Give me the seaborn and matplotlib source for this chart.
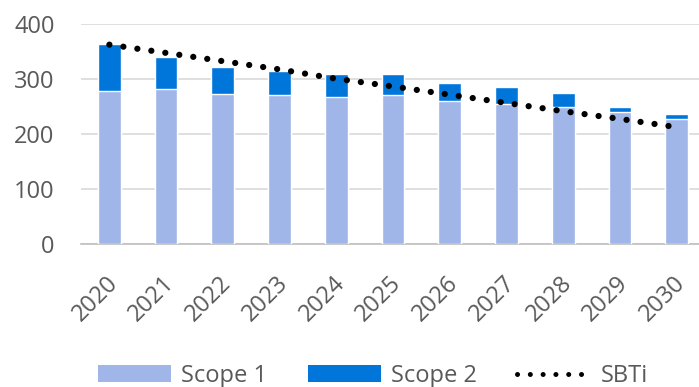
import matplotlib
matplotlib.use("Agg")
import matplotlib.pyplot as plt
import matplotlib.transforms as mtransforms
from matplotlib.patches import Patch
from matplotlib.lines import Line2D
import numpy as np
import seaborn as sns

years = ["2020", "2021", "2022", "2023", "2024", "2025",
         "2026", "2027", "2028", "2029", "2030"]
scope1 = [279, 282, 273, 271, 268, 271, 260, 255, 250, 240, 227]
scope2 = [85, 58, 49, 44, 41, 39, 34, 31, 26, 10, 10]
sbti = [363, 348, 333, 318, 301, 287, 272, 257, 242, 228, 213]
y_ticks = [0, 100, 200, 300, 400]

c_scope1 = "#A0B6E8"
c_scope2 = "#0075DA"
c_text = "#595959"
c_grid = "#D9D9D9"
fs = 17

sns.set_theme(style="white")
plt.rcParams["font.family"] = ["Open Sans", "DejaVu Sans"]

W, H = 699, 387
fig = plt.figure(figsize=(W / 100, H / 100), dpi=100)
ax = fig.add_axes([81 / W, 1 - 244.3 / H, (705 - 81) / W, 220 / H])

totals = np.array(scope1) + np.array(scope2)
pos = np.arange(len(years))

# Scope 2 stacked on top of Scope 1: full-height bar first, then Scope 1 over it
sns.barplot(x=years, y=totals, color=c_scope2, width=0.4, saturation=1,
            ax=ax, zorder=2)
sns.barplot(x=years, y=scope1, color=c_scope1, width=0.4, saturation=1,
            ax=ax, zorder=3)

sns.lineplot(x=pos, y=sbti, color="black", lw=4.5, ax=ax, zorder=4,
             linestyle=(0, (0.01, 2.25)))
for ln in ax.get_lines():
    ln.set_dash_capstyle("round")

ax.set_xlim(-0.5, len(years) - 0.5)
ax.set_ylim(0, 400)
ax.set_yticks(y_ticks)
ax.set_yticklabels([str(v) for v in y_ticks])
ax.yaxis.grid(True, color=c_grid, lw=1.2, zorder=0)
ax.set_axisbelow(True)
ax.set_xlabel("")
ax.set_ylabel("")

for side in ["left", "right", "top"]:
    ax.spines[side].set_visible(False)
ax.spines["bottom"].set_color("#BFBFBF")
ax.spines["bottom"].set_linewidth(1.2)

ax.tick_params(axis="y", length=0, pad=19, labelsize=fs, labelcolor=c_text)
ax.set_xticks(pos)
ax.set_xticks(np.arange(len(years) + 1) - 0.5, minor=True)
ax.tick_params(axis="x", which="major", length=0, pad=6,
               labelsize=fs, labelcolor=c_text)
ax.tick_params(axis="x", which="minor", length=6, width=1.2,
               color="#BFBFBF", direction="out")

offset = mtransforms.ScaledTranslation(5 / 100, -27 / 100, fig.dpi_scale_trans)
for lab in ax.get_xticklabels():
    lab.set_rotation(45)
    lab.set_ha("right")
    lab.set_va("center")
    lab.set_rotation_mode("anchor")
    lab.set_transform(lab.get_transform() + offset)

handles = [
    Patch(facecolor=c_scope1, edgecolor="none", label="Scope 1"),
    Patch(facecolor=c_scope2, edgecolor="none", label="Scope 2"),
    Line2D([0], [0], color="black", lw=3.6, linestyle=(0, (0.01, 2.55)),
           dash_capstyle="round", label="SBTi"),
]
fig.legend(handles=handles, loc="center", bbox_to_anchor=(373 / W, 1 - 376 / H),
           ncol=3, frameon=False, fontsize=fs, labelcolor=c_text,
           handlelength=3.13, handleheight=0.7, handletextpad=0.42,
           columnspacing=1.7, borderpad=0)

fig.savefig("out.png", dpi=100)
